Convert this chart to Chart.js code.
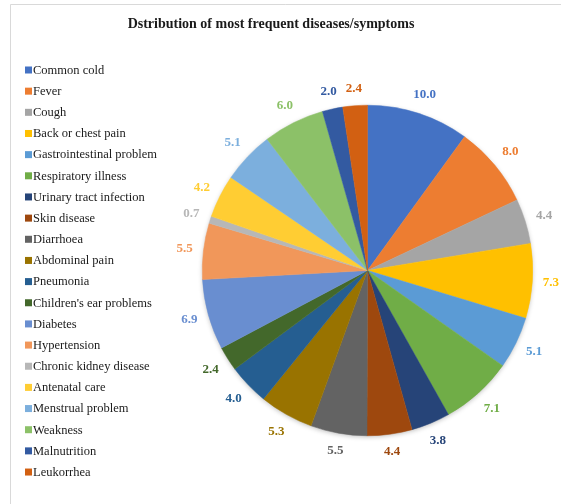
<!DOCTYPE html>
<html>
<head>
<meta charset="utf-8">
<script src="https://cdn.jsdelivr.net/npm/chart.js@4/dist/chart.umd.min.js"></script>
<style>
  html, body { margin: 0; padding: 0; background: #ffffff; }
  #wrap { position: relative; width: 561px; height: 504px; }
  canvas { display: block; }
</style>
</head>
<body>
<div id="wrap"><canvas id="c" width="561" height="504"></canvas></div>
<script>
const categories = [
  "Common cold", "Fever", "Cough", "Back or chest pain", "Gastrointestinal problem",
  "Respiratory illness", "Urinary tract infection", "Skin disease", "Diarrhoea", "Abdominal pain",
  "Pneumonia", "Children's ear problems", "Diabetes", "Hypertension", "Chronic kidney disease",
  "Antenatal care", "Menstrual problem", "Weakness", "Malnutrition", "Leukorrhea"
];
const percentages = [10.0, 8.0, 4.4, 7.3, 5.1, 7.1, 3.8, 4.4, 5.5, 5.3, 4.0, 2.4, 6.9, 5.5, 0.7, 4.2, 5.1, 6.0, 2.0, 2.4];
const sliceColors = [
  "#4472C4", "#ED7D31", "#A5A5A5", "#FFC000", "#5B9BD5",
  "#70AD47", "#264478", "#9E480E", "#636363", "#997300",
  "#255E91", "#43682B", "#698ED0", "#F1975A", "#B7B7B7",
  "#FFCD33", "#7CAFDD", "#8CC168", "#335AA1", "#D26012"
];
const chartTitle = "Dstribution of most frequent diseases/symptoms";

const decorPlugin = {
  id: 'decor',
  beforeDraw(chart) {
    const ctx = chart.ctx;
    ctx.save();
    ctx.fillStyle = '#ffffff';
    ctx.fillRect(0, 0, chart.width, chart.height);
    // frame
    ctx.strokeStyle = '#d9d9d9';
    ctx.lineWidth = 1;
    ctx.beginPath();
    ctx.moveTo(10.5, chart.height);
    ctx.lineTo(10.5, 4.5);
    ctx.lineTo(chart.width, 4.5);
    ctx.stroke();
    // title
    ctx.fillStyle = '#1a1a1a';
    ctx.font = 'bold 14px "Liberation Serif", "Times New Roman", serif';
    ctx.textAlign = 'center';
    ctx.textBaseline = 'middle';
    ctx.fillText(chartTitle, 271, 24.5);
    // legend
    ctx.font = '12.5px "Liberation Serif", "Times New Roman", serif';
    ctx.textAlign = 'left';
    for (let i = 0; i < categories.length; i++) {
      const y = 70 + i * 21.16;
      ctx.fillStyle = sliceColors[i];
      ctx.fillRect(25, y - 3.5, 7, 7);
      ctx.fillStyle = '#1a1a1a';
      ctx.fillText(categories[i], 33, y + 0.5);
    }
    ctx.restore();
  },
  beforeDatasetsDraw(chart) {
    const ctx = chart.ctx;
    const arc = chart.getDatasetMeta(0).data[0];
    if (!arc) return;
    const p = arc.getProps(['x', 'y', 'outerRadius'], true);
    ctx.save();
    ctx.shadowColor = 'rgba(0,0,0,0.28)';
    ctx.shadowBlur = 5;
    ctx.shadowOffsetY = 1.5;
    ctx.fillStyle = '#ffffff';
    ctx.beginPath();
    ctx.arc(p.x, p.y, p.outerRadius - 0.5, 0, Math.PI * 2);
    ctx.fill();
    ctx.restore();
  },
  afterDatasetsDraw(chart) {
    const ctx = chart.ctx;
    const meta = chart.getDatasetMeta(0);
    ctx.save();
    ctx.font = 'bold 13px "Liberation Serif", "Times New Roman", serif';
    ctx.textAlign = 'center';
    ctx.textBaseline = 'middle';
    meta.data.forEach((arc, i) => {
      const p = arc.getProps(['x', 'y', 'startAngle', 'endAngle', 'outerRadius'], true);
      const mid = (p.startAngle + p.endAngle) / 2;
      const txt = percentages[i].toFixed(1);
      const hw = ctx.measureText(txt).width / 2;
      const hh = 6.5;
      const c = Math.cos(mid), s = Math.sin(mid);
      const ext = Math.abs(c) * hw + Math.abs(s) * hh;
      const r = p.outerRadius + 10 + ext;
      ctx.fillStyle = sliceColors[i];
      ctx.fillText(txt, p.x + c * r, p.y + s * r);
    });
    ctx.restore();
  }
};

new Chart(document.getElementById('c'), {
  type: 'pie',
  data: {
    labels: categories,
    datasets: [{
      data: percentages,
      backgroundColor: sliceColors,
      borderColor: sliceColors,
      borderWidth: 0.5
    }]
  },
  options: {
    responsive: false,
    animation: false,
    devicePixelRatio: 1,
    layout: { padding: { left: 202, right: 28, top: 105, bottom: 68 } },
    plugins: {
      legend: { display: false },
      title: { display: false },
      tooltip: { enabled: false }
    }
  },
  plugins: [decorPlugin]
});
</script>
</body>
</html>
